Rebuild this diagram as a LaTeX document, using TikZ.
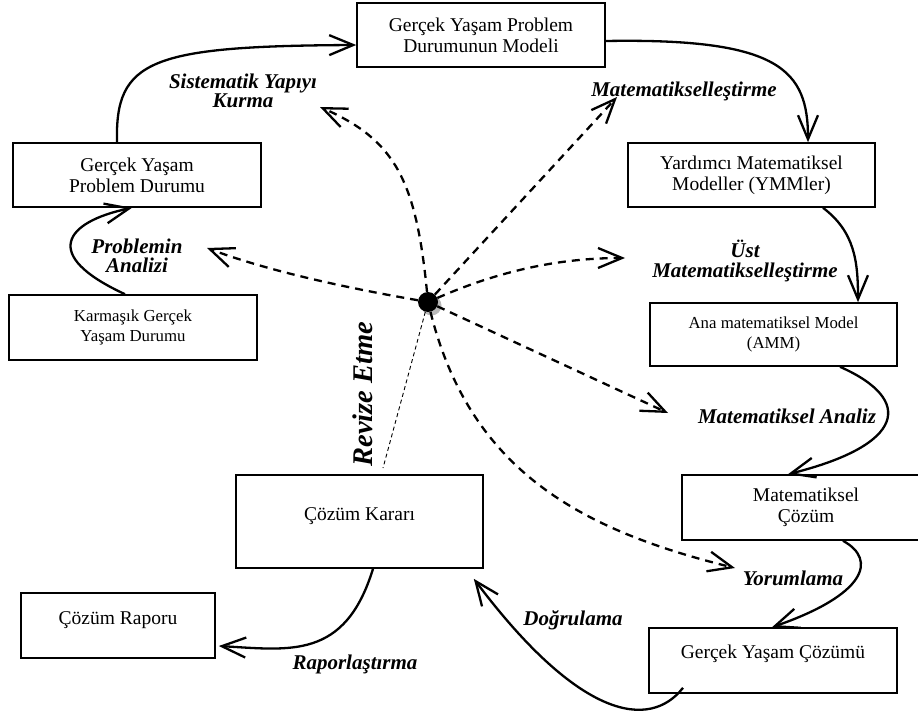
\documentclass[tikz,border=0pt]{standalone}
\usepackage{fontspec}
\setmainfont{Liberation Serif}
\usetikzlibrary{arrows.meta}
\begin{document}
\begin{tikzpicture}[x=1pt,y=-1pt,
  box/.style={draw,line width=1.6pt,minimum width=248pt,minimum height=64pt,align=center,inner sep=0pt,font=\fontsize{19.5}{21}\selectfont},
  sbox/.style={box,font=\fontsize{16.8}{20}\selectfont},
  lab/.style={align=center,inner sep=0pt,font=\fontsize{21}{19.5}\selectfont\bfseries\itshape},
  flow/.style={line width=2.3pt,-{Straight Barb[length=24pt,width=20pt,line width=2.3pt]}},
  dflow/.style={flow,dash pattern=on 8pt off 6pt},
  thindash/.style={line width=0.9pt,dash pattern=on 4pt off 3pt}]
\useasboundingbox (0,0) rectangle (918,714);
\clip (0,0) rectangle (918,714);

% boxes
\node[box] (top)  at (481,35)    {Gerçek Yaşam Problem\\Durumunun Modeli};
\node[box] (gypd) at (137,175)   {Gerçek Yaşam\\Problem Durumu};
\node[sbox,minimum height=65pt] (karm) at (133,327.5) {Karmaşık Gerçek\\Yaşam Durumu};
\node[box,minimum width=247pt] (ymm)  at (751.5,175) {Yardımcı Matematiksel\\Modeller (YMMler)};
\node[sbox,minimum width=247pt,minimum height=63pt] (amm) at (773.5,334.5) {Ana matematiksel Model\\(AMM)};
\node[box,minimum height=65pt] (mc)   at (806,507.5) {Matematiksel\\Çözüm};
\node[box,minimum height=65pt] (gyc)  at (773,660.5) {Gerçek Yaşam Çözümü\\[-4pt]\mbox{}};
\node[box,minimum width=247pt,minimum height=93pt] (ck) at (359.5,521.5) {Çözüm Kararı\\[-7pt]\mbox{}};
\node[box,minimum width=194pt,minimum height=65pt] (cr) at (118,625.5) {Çözüm Raporu\\[-6pt]\mbox{}};

% hub
\fill[gray!55] (431.5,305.5) circle (10pt);
\node[circle,fill=black,minimum size=20pt,inner sep=0pt] (hub) at (428,302) {};

% free ends of dashed arrows
\coordinate (stip) at (320,107);
\coordinate (ptip) at (207,248);
\coordinate (mtip) at (617,97);
\coordinate (utip) at (625,258);
\coordinate (atip) at (668,413);
\coordinate (ytip) at (735,568);
\coordinate (revend) at (383,468);

% solid flows
\draw[flow] ([xshift=-8pt]karm.north) .. controls (40,255) and (65,222) .. ([xshift=-5pt]gypd.south);
\draw[flow] ([xshift=-20pt]gypd.north) .. controls (115,60) and (150,46) .. ([yshift=-10pt]top.west);
\draw[flow] ([yshift=-6pt]top.east) .. controls (780,38) and (808,70) .. ([xshift=56.5pt]ymm.north);
\draw[flow] ([xshift=71.5pt]ymm.south) .. controls (855,232) and (858,262) .. ([xshift=84.5pt]amm.north);
\draw[flow] ([xshift=66.5pt]amm.south) .. controls (915,400) and (905,445) .. ([xshift=-18pt]mc.north);
\draw[flow] ([xshift=37pt]mc.south) .. controls (878,560) and (865,595) .. ([xshift=-1pt]gyc.north);
\draw[flow] ([shift={(-90pt,6pt)}]gyc.south) .. controls (650,730) and (580,720) .. ([shift={(-10pt,-10pt)}]ck.south east);
\draw[flow] ([xshift=13.5pt]ck.south) .. controls (345,660) and (290,650) .. ([shift={(3pt,-20.5pt)}]cr.east);

% dashed flows
\draw[dflow] (hub) .. controls (416,180) and (395,140) .. (stip);
\draw[dflow] (hub) .. controls (330,285) and (260,268) .. (ptip);
\draw[dflow] (hub) -- (mtip);
\draw[dflow] (hub) .. controls (490,275) and (550,258) .. (utip);
\draw[dflow] (hub) -- (atip);
\draw[dflow] (hub) .. controls (470,470) and (580,530) .. (ytip);
\draw[thindash] (hub) -- (revend);

% labels
\node[lab] (l1) at (243,91)  {Sistematik Yapıyı\\Kurma};
\node[lab] (l2) at (684,91)  {Matematikselleştirme};
\node[lab] (l3) at (137,256) {Problemin\\Analizi};
\node[lab] (l4) at (745,261) {Üst\\Matematikselleştirme};
\node[lab] (l5) at (787,416) {Matematiksel Analiz};
\node[lab] (l6) at (793,578) {Yorumlama};
\node[lab] (l7) at (573,620) {Doğrulama};
\node[lab] (l8) at (355,664) {Raporlaştırma};
\node[lab,rotate=90,font=\fontsize{28.5}{30}\selectfont\bfseries\itshape] (l9) at (363,394) {Revize Etme};
\end{tikzpicture}
\end{document}
